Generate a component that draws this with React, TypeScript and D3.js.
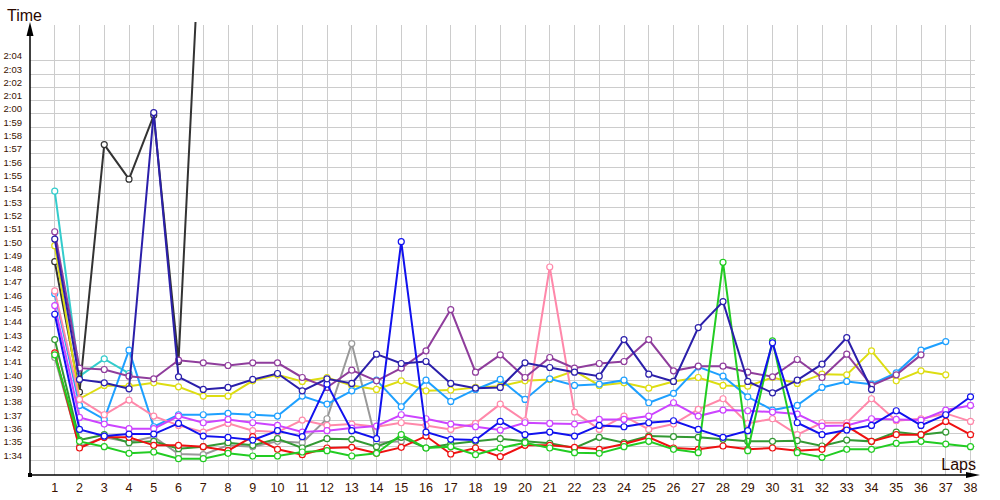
import React from "react";
import * as d3 from "d3";

// lap times in seconds
const laps = d3.range(1, 39);
const yTicks = d3.range(94, 125);

const red = [102.05, 94.9, 95.7, 95.7, 95.1, 95.1, 95.0, 94.7, 95.75, 94.8, 94.4, 94.9, 94.95, 94.5, 94.95, 95.8, 94.45, 94.9, 94.25, 95.1, 95.1, 94.95, 94.8, 95.2, 95.7, 94.9, 94.8, 95.05, 94.8, 94.9, 94.7, 94.8, 96.55, 95.4, 95.9, 95.9, 96.9, 95.9];
const green = [101.9, 95.4, 95.0, 94.5, 94.6, 94.1, 94.1, 94.5, 94.3, 94.3, 94.6, 94.7, 94.3, 94.5, 95.9, 94.9, 95.0, 94.4, 94.9, 95.3, 94.9, 94.55, 94.5, 95.0, 95.4, 94.8, 94.55, 108.85, 94.7, 102.95, 94.55, 94.2, 94.8, 94.8, 95.25, 95.4, 95.2, 95.0];
const darkGreen = [103.05, 95.5, 95.9, 95.3, 95.4, 94.85, 95.0, 95.3, 95.1, 95.6, 94.9, 95.6, 95.55, 95.0, 95.7, 94.9, 95.2, 95.4, 95.6, 95.4, 95.25, 94.9, 95.7, 95.3, 95.8, 95.75, 95.7, 95.55, 95.4, 95.4, 95.45, 95.05, 95.5, 95.4, 96.1, 95.9, 96.1];
const gray = [101.7, 95.0, 95.7, 95.35, 95.75, 94.45, 94.4, 95.1, 95.0, 95.4, 95.3, 97.1, 102.75, 95.3, 95.4];
const black = [108.9, 99.1, 117.7, 115.1, 119.9, 101.4, 138.5];
const navy = [110.6, 100.05, 99.8, 99.35, 120.1, 100.25, 99.3, 99.45, 100.05, 100.5, 99.2, 100.1, 99.75, 101.95, 101.25, 101.4, 99.75, 99.4, 99.45, 101.3, 100.95, 100.6, 100.3, 103.05, 100.45, 99.9, 103.95, 105.9, 99.9, 99.05, 100.0, 101.2, 103.2, 99.3];
const blue = [104.95, 96.3, 95.8, 95.95, 95.95, 96.75, 95.8, 95.7, 95.5, 96.2, 95.75, 99.7, 96.2, 95.6, 110.4, 96.1, 95.55, 95.5, 96.9, 95.9, 96.1, 95.8, 96.6, 96.5, 96.8, 96.95, 96.3, 95.7, 96.2, 102.8, 96.8, 95.9, 96.25, 96.6, 97.7, 96.6, 97.4, 98.75];
const purple = [111.15, 100.9, 100.8, 100.3, 100.1, 101.5, 101.3, 101.1, 101.3, 101.3, 100.2, 99.45, 100.75, 99.95, 100.9, 102.2, 105.3, 100.6, 101.9, 100.2, 101.7, 100.9, 101.25, 101.4, 103.05, 100.7, 101.05, 101.05, 100.6, 100.25, 101.55, 100.2, 101.95, 99.6, 100.4, 101.9];
const yellow = [110.1, 98.6, 99.6, 99.55, 99.8, 99.5, 98.8, 98.8, 99.95, 100.4, 99.9, 100.2, 99.6, 99.3, 99.95, 99.2, 99.25, 99.45, 99.55, 99.95, 100.05, 100.7, 99.6, 99.8, 99.4, 99.9, 100.2, 99.6, 99.55, 100.2, 99.75, 100.45, 100.4, 102.2, 99.95, 100.7, 100.4];
const lightBlue = [106.5, 98.1, 97.05, 102.25, 96.5, 97.4, 97.4, 97.5, 97.4, 97.3, 98.8, 98.2, 99.2, 100.0, 98.0, 100.0, 98.4, 99.3, 100.05, 98.55, 100.1, 99.6, 99.7, 100.0, 98.3, 99.0, 101.0, 100.3, 98.75, 97.75, 98.1, 99.45, 99.9, 99.7, 100.55, 102.25, 102.9];
const cyan = [114.2, 100.3, 101.6, 100.5];
const pink = [106.7, 98.55, 97.4, 98.5, 97.3, 96.6, 96.1, 96.75, 96.2, 96.1, 97.0, 96.6, 96.7, 96.5, 96.8, 96.6, 96.3, 96.75, 98.2, 96.95, 108.5, 97.6, 96.3, 97.3, 96.3, 96.7, 97.8, 98.6, 96.75, 97.1, 95.9, 96.8, 96.8, 98.6, 96.95, 97.1, 97.5, 96.9];
const magenta = [105.6, 97.2, 96.7, 96.35, 96.35, 97.3, 96.8, 97.05, 96.8, 96.6, 96.1, 96.2, 96.4, 96.55, 97.4, 97.1, 96.7, 96.5, 96.25, 96.8, 96.75, 96.7, 97.05, 97.05, 97.3, 98.3, 97.3, 97.75, 97.7, 97.6, 97.45, 96.55, 96.6, 97.1, 97.05, 97.0, 97.75, 98.1];

const series = [
  { name: "cyan", values: cyan, color: "#33cccc" },
  { name: "black", values: black, color: "#333333" },
  { name: "gray", values: gray, color: "#999999" },
  { name: "yellow", values: yellow, color: "#dddd11" },
  { name: "lightBlue", values: lightBlue, color: "#1ea0ff" },
  { name: "pink", values: pink, color: "#ff88aa" },
  { name: "magenta", values: magenta, color: "#cc44ff" },
  { name: "purple", values: purple, color: "#8f3d9c" },
  { name: "darkGreen", values: darkGreen, color: "#339933" },
  { name: "red", values: red, color: "#ee1111" },
  { name: "green", values: green, color: "#22cc22" },
  { name: "blue", values: blue, color: "#1111ee" },
  { name: "navy", values: navy, color: "#2b1faa" },
];

const fmt = (t: number) => `${Math.floor(t / 60)}:${String(t % 60).padStart(2, "0")}`;

export default function App() {
  const x = d3.scaleLinear().domain([0, 38]).range([30, 970.5]);
  const y = d3.scaleLinear().domain([94, 124]).range([460, 60.7]);
  const yBottom = 475;
  const yTop = 25;
  const line = d3
    .line<number>()
    .x((_, i) => x(i + 1))
    .y((d) => y(d));
  const font = "'Liberation Sans', Arial, sans-serif";
  const labelColor = "#3a1200";
  return (
    <svg
      width={1000}
      height={500}
      style={{ position: "absolute", left: 0, top: 0, background: "#fff" }}
      fontFamily={font}
    >
      <defs>
        <clipPath id="plot">
          <rect x={30} y={22} width={970} height={yBottom - 22} />
        </clipPath>
      </defs>
      {/* grid */}
      <g stroke="#cccccc" strokeWidth={1} shapeRendering="crispEdges">
        {laps.map((l) => (
          <line key={"v" + l} x1={x(l)} x2={x(l)} y1={yTop} y2={yBottom} />
        ))}
        {yTicks.map((t) => (
          <line key={"h" + t} x1={30} x2={975} y1={y(t)} y2={y(t)} />
        ))}
      </g>
      {/* y tick labels */}
      <g fontSize={9.5} fill={labelColor} textAnchor="end">
        {yTicks.map((t) => (
          <text key={"yt" + t} x={22} y={y(t) - 1.5}>
            {fmt(t)}
          </text>
        ))}
      </g>
      {/* x tick labels */}
      <g fontSize={12.5} fill={labelColor} textAnchor="middle">
        {laps.map((l) => (
          <text key={"xt" + l} x={x(l)} y={492}>
            {l}
          </text>
        ))}
      </g>
      {/* series */}
      <g clipPath="url(#plot)">
        {series.map((s) => (
          <g key={s.name}>
            <path d={line(s.values) || ""} fill="none" stroke={s.color} strokeWidth={2} strokeLinejoin="miter" />
            {s.values.map((v, i) => (
              <circle key={i} cx={x(i + 1)} cy={y(v)} r={3} fill="#fff" stroke={s.color} strokeWidth={1.2} />
            ))}
          </g>
        ))}
      </g>
      {/* axes */}
      <line x1={30} x2={30} y1={yBottom} y2={30} stroke="#000" strokeWidth={1.5} />
      <path d={`M30,22 L26.5,36 L33.5,36 Z`} fill="#000" />
      <line x1={30} x2={972} y1={yBottom} y2={yBottom} stroke="#000" strokeWidth={1.5} />
      <path d={`M980,${yBottom} L966,${yBottom - 3} L966,${yBottom + 3} Z`} fill="#000" />
      <rect x={28} y={yBottom - 2} width={4} height={4} fill="#000" />
      <text x={7} y={21} fontSize={16} fill="#2a0800">
        Time
      </text>
      <text x={976} y={470} fontSize={16} fill="#2a0800" textAnchor="end">
        Laps
      </text>
    </svg>
  );
}
